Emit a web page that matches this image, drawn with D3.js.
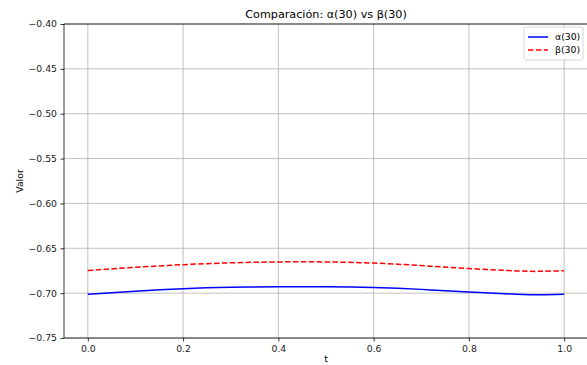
<!DOCTYPE html>
<html>
<head>
<meta charset="utf-8">
<script src="https://cdn.jsdelivr.net/npm/d3@7"></script>
<style>
  html, body { margin: 0; padding: 0; background: #fff; }
  svg { display: block; font-family: "DejaVu Sans", sans-serif; }
</style>
</head>
<body>
<svg id="chart" width="587" height="365"></svg>
<script>
// Sample points of t and the two sequences evaluated there
const tValues = [0.0, 0.1, 0.2, 0.3, 0.4, 0.5, 0.6, 0.7, 0.8, 0.9, 0.95, 1.0];
const alpha30 = [-0.7013, -0.6978, -0.6951, -0.6935, -0.6928, -0.6928, -0.6937, -0.6958, -0.6988, -0.7012, -0.7018, -0.7013];
const beta30  = [-0.6748, -0.6712, -0.6683, -0.6662, -0.6652, -0.6652, -0.6665, -0.6693, -0.6726, -0.6752, -0.6757, -0.6750];
const xTicks = [0.0, 0.2, 0.4, 0.6, 0.8, 1.0];
const yTicks = [-0.75, -0.70, -0.65, -0.60, -0.55, -0.50, -0.45, -0.40];
const seriesNames = ["α(30)", "β(30)"];

const svg = d3.select("#chart");
const plot = { left: 64, right: 588, top: 24, bottom: 338 };

const x = d3.scaleLinear().domain([-0.05, 1.05]).range([plot.left, plot.right]);
const y = d3.scaleLinear().domain([-0.75, -0.40]).range([plot.bottom, plot.top]);

// Grid
const grid = svg.append("g").attr("stroke", "#b0b0b0").attr("stroke-width", 0.8);
grid.selectAll("line.vx").data(xTicks).join("line")
  .attr("x1", d => x(d)).attr("x2", d => x(d))
  .attr("y1", plot.top).attr("y2", plot.bottom);
grid.selectAll("line.hy").data(yTicks).join("line")
  .attr("y1", d => y(d)).attr("y2", d => y(d))
  .attr("x1", plot.left).attr("x2", plot.right);

// Axes
const xAxis = d3.axisBottom(x).tickValues(xTicks).tickFormat(d3.format(".1f")).tickSizeOuter(0).tickSize(3.5).tickPadding(3.5);
const yAxis = d3.axisLeft(y).tickValues(yTicks).tickFormat(d3.format(".2f")).tickSizeOuter(0).tickSize(3.5).tickPadding(3.5);

const gx = svg.append("g").attr("transform", `translate(0,${plot.bottom})`).call(xAxis);
const gy = svg.append("g").attr("transform", `translate(${plot.left},0)`).call(yAxis);
[gx, gy].forEach(g => {
  g.select(".domain").remove();
  g.selectAll(".tick line").attr("stroke", "#000").attr("stroke-width", 0.8);
  g.selectAll(".tick text").attr("fill", "#222").style("font-size", "9.3px").style("font-family", "DejaVu Sans, sans-serif");
});

// Spines
svg.append("g").attr("stroke", "#000").attr("stroke-width", 0.8).attr("fill", "none")
  .selectAll("line").data([
    [plot.left, plot.top, plot.left, plot.bottom],
    [plot.left, plot.bottom, plot.right, plot.bottom],
    [plot.left, plot.top, plot.right, plot.top]
  ]).join("line")
  .attr("x1", d => d[0]).attr("y1", d => d[1]).attr("x2", d => d[2]).attr("y2", d => d[3]);

// Curves
const line = d3.line().curve(d3.curveNatural);
const alphaPts = tValues.map((t, i) => [x(t), y(alpha30[i])]);
const betaPts = tValues.map((t, i) => [x(t), y(beta30[i])]);

svg.append("path").attr("d", line(alphaPts))
  .attr("fill", "none").attr("stroke", "#0000ff").attr("stroke-width", 1.5);
svg.append("path").attr("d", line(betaPts))
  .attr("fill", "none").attr("stroke", "#ff0000").attr("stroke-width", 1.5)
  .attr("stroke-dasharray", "5.5,2.4");

// Title and axis labels
svg.append("text").attr("x", (plot.left + plot.right) / 2).attr("y", 18)
  .attr("text-anchor", "middle").style("font-size", "11.2px").attr("fill", "#000")
  .text("Comparación: α(30) vs β(30)");
svg.append("text").attr("x", (plot.left + plot.right) / 2).attr("y", 362)
  .attr("text-anchor", "middle").style("font-size", "9.3px").attr("fill", "#000")
  .text("t");
svg.append("text").attr("transform", "translate(23,181) rotate(-90)")
  .attr("text-anchor", "middle").style("font-size", "9.3px").attr("fill", "#000")
  .text("Valor");

// Legend
const lg = svg.append("g").attr("transform", "translate(524,27)");
lg.append("rect").attr("width", 59).attr("height", 33).attr("rx", 2)
  .attr("fill", "#fff").attr("fill-opacity", 0.8).attr("stroke", "#cccccc").attr("stroke-width", 0.8);
const styles = [{ color: "#0000ff", dash: null }, { color: "#ff0000", dash: "5.5,2.4" }];
seriesNames.forEach((name, i) => {
  const yy = 10 + i * 13;
  lg.append("line").attr("x1", 4).attr("x2", 24).attr("y1", yy).attr("y2", yy)
    .attr("stroke", styles[i].color).attr("stroke-width", 1.5)
    .attr("stroke-dasharray", styles[i].dash);
  lg.append("text").attr("x", 31).attr("y", yy + 3.3)
    .style("font-size", "9.3px").attr("fill", "#000").text(name);
});
</script>
</body>
</html>
